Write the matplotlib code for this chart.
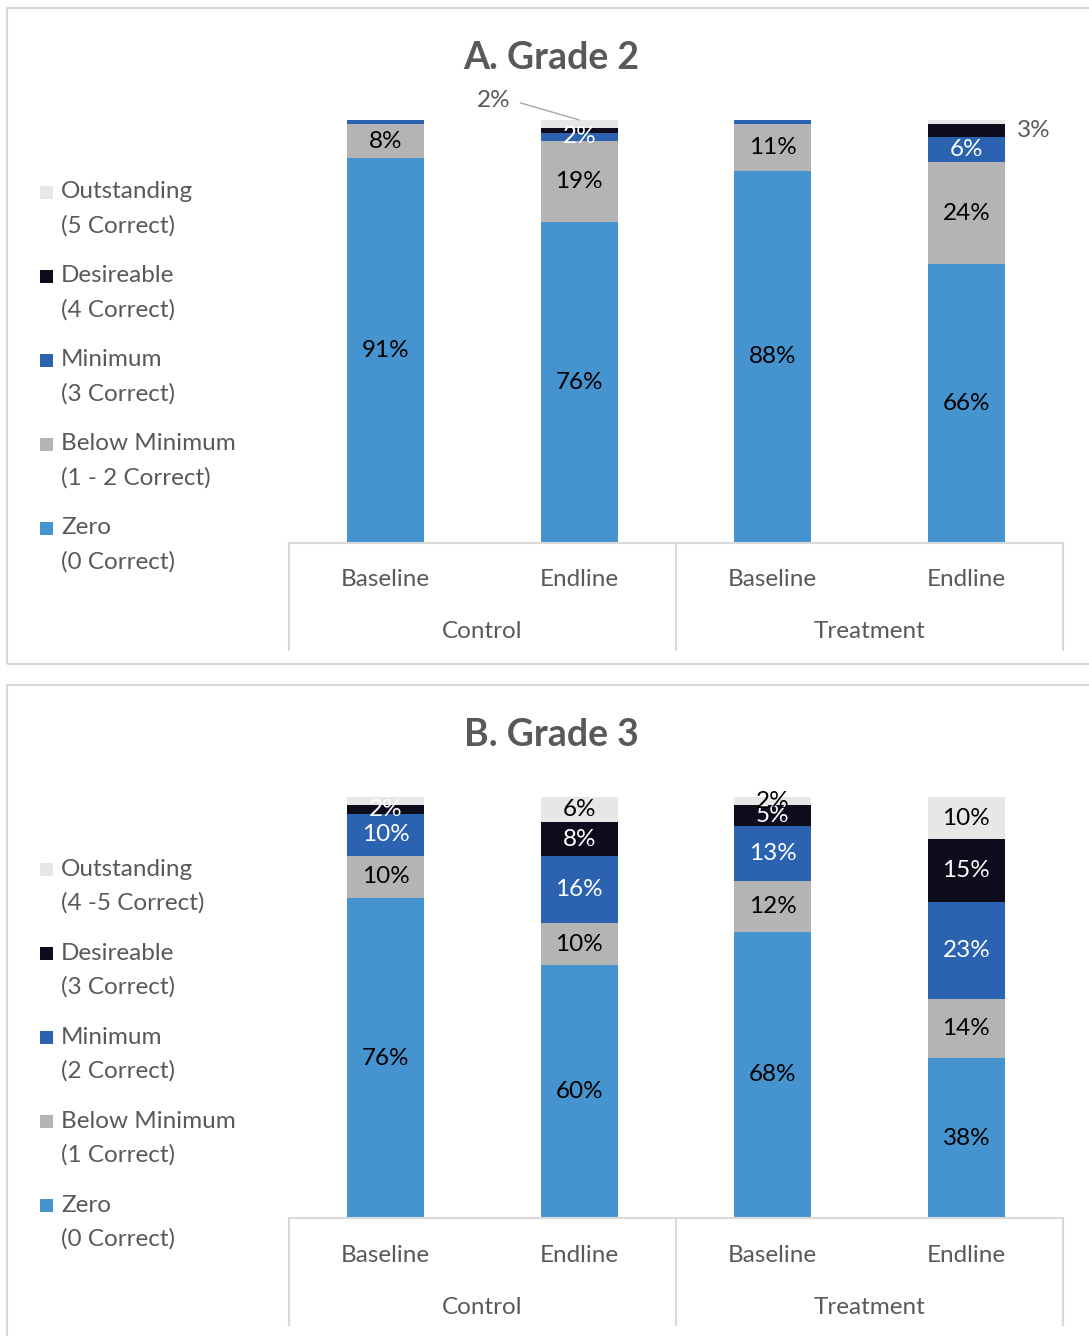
import matplotlib
matplotlib.use('Agg')
import matplotlib.pyplot as plt
from matplotlib.patches import Rectangle

plt.rcParams['font.family'] = ['Lato', 'DejaVu Sans']

groups = ['Control', 'Treatment']
phases = ['Baseline', 'Endline', 'Baseline', 'Endline']
levels = ['Zero', 'Below Minimum', 'Minimum', 'Desireable', 'Outstanding']
colors = ['#4593cf', '#b4b4b4', '#2b63b0', '#0c0c1c', '#e7e7e7']
text_colors = ['black', 'black', 'white', 'white', 'black']

# Grade 2 (order of bars: Control Baseline, Control Endline, Treatment Baseline, Treatment Endline)
g2_zero = [91, 76, 88, 66]
g2_below = [8, 19, 11, 24]
g2_min = [1, 2, 1, 6]
g2_des = [0, 1, 0, 3]
g2_out = [0, 2, 0, 1]
g2_notes = ['(0 Correct)', '(1 - 2 Correct)', '(3 Correct)', '(4 Correct)', '(5 Correct)']

# Grade 3
g3_zero = [76, 60, 68, 38]
g3_below = [10, 10, 12, 14]
g3_min = [10, 16, 13, 23]
g3_des = [2, 8, 5, 15]
g3_out = [2, 6, 2, 10]
g3_notes = ['(0 Correct)', '(1 Correct)', '(2 Correct)', '(3 Correct)', '(4 -5 Correct)']

W, H = 1089, 1336
GREY = '#595959'
LINE = '#d9d9d9'
FS = 17.5
fig = plt.figure(figsize=(W / 100, H / 100), dpi=100)


def fx(px):
    return px / W


def fy(py):
    return 1 - py / H


def panel(top, bottom, panel_top, title, series, notes, skip, callout, outside):
    # panel frame
    fig.patches.append(Rectangle((fx(7), fy(panel_top + 656)), 1.2, 656 / H,
                                 transform=fig.transFigure, fill=False,
                                 edgecolor=LINE, linewidth=1.5))
    fig.text(fx(551), fy(panel_top + 50), title, ha='center', va='center',
             fontsize=27, fontweight='bold', color=GREY)

    ax = fig.add_axes([fx(289), fy(bottom), (1063 - 289) / W, (bottom - top) / H])
    x = list(range(len(phases)))
    base = [0] * len(phases)
    for i, vals in enumerate(series):
        ax.bar(x, vals, 0.4, bottom=base, color=colors[i], linewidth=0)
        for j, v in enumerate(vals):
            yc = base[j] + v / 2
            if (i, j) in skip or v < 2:
                pass
            elif (i, j) == callout:
                ax.annotate(f'{v}%', xy=(j, base[j] + v), xytext=(j - 0.44, 104.7),
                            ha='center', va='center', fontsize=FS, color=GREY,
                            annotation_clip=False,
                            arrowprops=dict(arrowstyle='-', color='#a6a6a6',
                                            relpos=(1, 0.5), shrinkA=5, shrinkB=0))
            elif (i, j) == outside:
                ax.text(j + 0.26, yc, f'{v}%', ha='left', va='center',
                        fontsize=FS, color=GREY)
            else:
                ax.text(j, yc, f'{v}%', ha='center', va='center',
                        fontsize=FS, color=text_colors[i])
        base = [b + v for b, v in zip(base, vals)]
    ax.set_xlim(-0.5, 3.5)
    ax.set_ylim(0, 100)
    ax.axis('off')

    # multi-level category axis
    depth = 107 / (bottom - top)
    ax.plot([-0.5, 3.5], [0, 0], color=LINE, lw=1.5, clip_on=False)
    for xv in [-0.5, 1.5, 3.5]:
        ax.plot([xv, xv], [0, -depth * 100], color=LINE, lw=1.5, clip_on=False)
    for j, p in enumerate(phases):
        ax.text(j, -37 / (bottom - top) * 100, p, ha='center', va='center',
                fontsize=FS, color=GREY)
    for g, name in enumerate(groups):
        ax.text(0.5 + 2 * g, -89 / (bottom - top) * 100, name, ha='center',
                va='center', fontsize=FS, color=GREY)

    # legend
    leg_top = panel_top + 184
    for k, i in enumerate(reversed(range(len(levels)))):
        y1 = leg_top + k * 84
        fig.patches.append(Rectangle((fx(40), fy(y1 + 7)), 13 / W, 13 / H,
                                     transform=fig.transFigure,
                                     facecolor=colors[i], edgecolor='none'))
        fig.text(fx(61), fy(y1), levels[i], ha='left', va='center',
                 fontsize=FS, color=GREY)
        fig.text(fx(61), fy(y1 + 34), notes[i], ha='left', va='center',
                 fontsize=FS, color=GREY)


panel(120, 543, 8, 'A. Grade 2', [g2_zero, g2_below, g2_min, g2_des, g2_out],
      g2_notes, skip=set(), callout=(4, 1), outside=(3, 3))
panel(797, 1218, 685, 'B. Grade 3', [g3_zero, g3_below, g3_min, g3_des, g3_out],
      g3_notes, skip={(4, 0)}, callout=None, outside=None)

fig.savefig('out.png', dpi=100)
